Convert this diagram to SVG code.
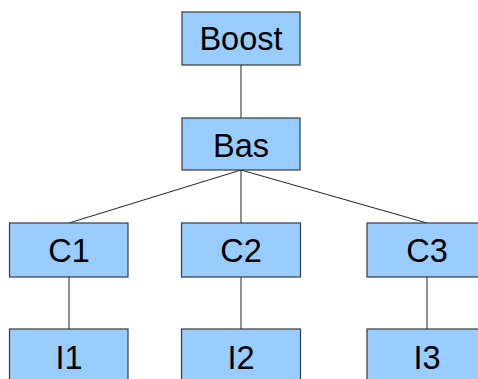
<svg xmlns="http://www.w3.org/2000/svg" width="478" height="379" viewBox="0 0 478 379">
<style>
.box{fill:#99ccff;stroke:#3a3a3a;stroke-width:1.2}
.lbl{font-family:"Liberation Sans",Arial,sans-serif;font-size:32.5px;fill:#000;text-anchor:middle}
.edge{stroke:#222;stroke-width:1;fill:none}
</style>
<rect width="478" height="379" fill="#fff"/>
<g id="connectors">
<line class="edge" x1="241" y1="65" x2="241" y2="118"/>
<line class="edge" x1="241" y1="170" x2="69" y2="223"/>
<line class="edge" x1="241" y1="170" x2="241" y2="223"/>
<line class="edge" x1="241" y1="170" x2="427" y2="223"/>
<line class="edge" x1="69" y1="277" x2="69" y2="329"/>
<line class="edge" x1="241" y1="277" x2="241" y2="329"/>
<line class="edge" x1="427" y1="277" x2="427" y2="329"/>
</g>
<g id="boost"><rect class="box" x="182" y="12" width="118" height="53"/><text class="lbl" x="241" y="50">Boost</text></g>
<g id="bas"><rect class="box" x="182" y="118" width="118" height="52"/><text class="lbl" x="241" y="157">Bas</text></g>
<g id="c1"><rect class="box" x="9.5" y="223" width="118.5" height="54"/><text class="lbl" x="69" y="262">C1</text></g>
<g id="c2"><rect class="box" x="181.5" y="223" width="119" height="54"/><text class="lbl" x="241" y="262">C2</text></g>
<g id="c3"><rect class="box" x="367" y="223" width="119" height="54"/><text class="lbl" x="427" y="262">C3</text></g>
<g id="i1"><rect class="box" x="9.5" y="329" width="118.5" height="60"/><text class="lbl" x="69" y="369">I1</text></g>
<g id="i2"><rect class="box" x="181.5" y="329" width="119" height="60"/><text class="lbl" x="241" y="369">I2</text></g>
<g id="i3"><rect class="box" x="367" y="329" width="119" height="60"/><text class="lbl" x="427" y="369">I3</text></g>
</svg>
